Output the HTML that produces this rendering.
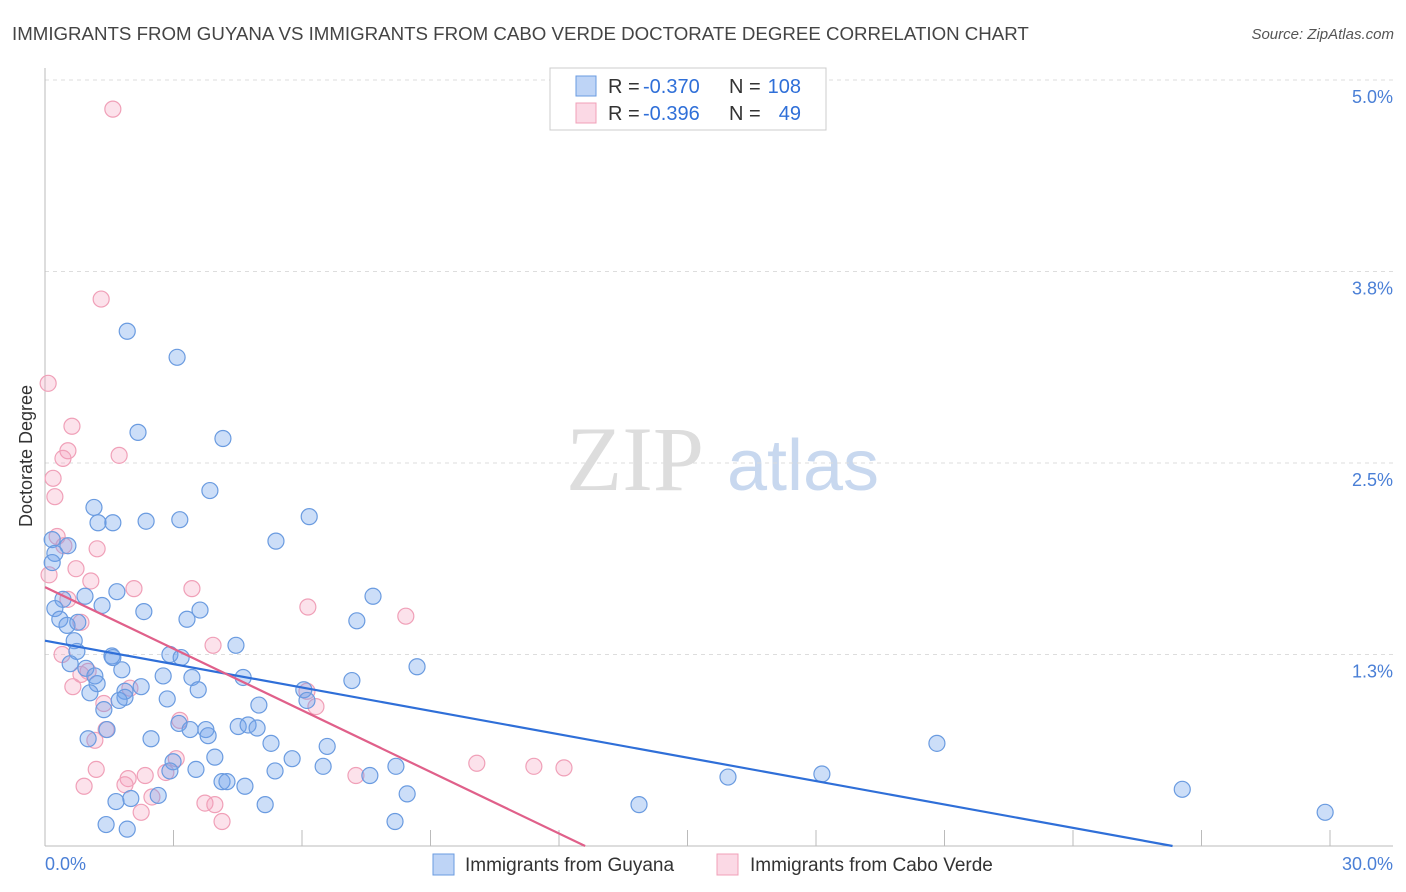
<!DOCTYPE html>
<html><head><meta charset="utf-8"><style>
body{margin:0;background:#fff;font-family:"Liberation Sans",sans-serif;}
svg{display:block}
</style></head><body>
<svg id="chart" width="1406" height="892">
<text x="12" y="40" font-size="18.7" fill="#444">IMMIGRANTS FROM GUYANA VS IMMIGRANTS FROM CABO VERDE DOCTORATE DEGREE CORRELATION CHART</text>
<text x="1394" y="39" font-size="15" fill="#555" font-style="italic" text-anchor="end">Source: ZipAtlas.com</text>
<text x="32" y="456" font-size="18" fill="#333" text-anchor="middle" transform="rotate(-90 32 456)">Doctorate Degree</text>
<g>
<text x="635" y="490" font-size="92" fill="#ddd" font-family="Liberation Serif,serif" text-anchor="middle">ZIP</text>
<text x="803" y="490" font-size="72" fill="#c8d8ef" text-anchor="middle">atlas</text>
</g>
<g id="grid"></g><g id="marks"></g>
<g>
<rect x="550" y="68" width="276" height="62" fill="#fff" stroke="#ccc"/>
<rect x="576" y="76" width="20" height="20" fill="rgba(110,160,235,0.45)" stroke="#6a9be0"/>
<rect x="576" y="103" width="20" height="20" fill="rgba(245,160,190,0.4)" stroke="#f0a0b8"/>
<text x="608" y="93" font-size="20" fill="#333">R =</text>
<text x="643" y="93" font-size="20" fill="#2f6fd8">-0.370</text>
<text x="729" y="93" font-size="20" fill="#333">N =</text>
<text x="801" y="93" font-size="20" fill="#2f6fd8" text-anchor="end">108</text>
<text x="608" y="120" font-size="20" fill="#333">R =</text>
<text x="643" y="120" font-size="20" fill="#2f6fd8">-0.396</text>
<text x="729" y="120" font-size="20" fill="#333">N =</text>
<text x="801" y="120" font-size="20" fill="#2f6fd8" text-anchor="end">49</text>
</g>
<g>
<rect x="433" y="854" width="21" height="21" fill="rgba(110,160,235,0.45)" stroke="#6a9be0"/>
<text x="465" y="871" font-size="19" fill="#333">Immigrants from Guyana</text>
<rect x="717" y="854" width="21" height="21" fill="rgba(245,160,190,0.4)" stroke="#f0a0b8"/>
<text x="750" y="871" font-size="19" fill="#333">Immigrants from Cabo Verde</text>
</g>
</svg>
<script>
const blueX=[1.83,2.94,2.07,3.96,3.67,1.09,1.18,1.51,2.25,3.00,5.88,5.14,0.16,0.51,0.22,0.16,1.60,0.89,0.40,1.27,0.22,2.20,3.45,3.16,0.33,0.49,0.73,7.30,6.94,4.25,0.65,0.71,1.49,2.78,3.03,1.51,0.56,0.91,1.71,8.28,2.63,3.27,4.41,6.83,1.11,1.16,2.14,1.78,3.41,2.72,5.76,1.00,1.78,1.65,4.76,1.31,5.83,2.98,3.23,3.58,4.30,4.52,4.72,1.38,2.36,0.96,3.63,5.03,6.28,3.78,5.50,2.85,3.36,6.19,5.12,2.78,3.94,4.05,4.45,7.23,7.81,1.58,1.91,2.52,4.90,8.06,1.36,1.83,7.79,13.22,15.20,17.29,19.85,25.31,28.49];
const blueY=[3.36,3.19,2.70,2.66,2.32,2.21,2.11,2.11,2.12,2.13,2.15,1.99,2.00,1.96,1.91,1.85,1.66,1.63,1.61,1.57,1.55,1.53,1.54,1.48,1.48,1.44,1.46,1.63,1.47,1.31,1.34,1.27,1.24,1.25,1.23,1.23,1.19,1.16,1.15,1.17,1.11,1.10,1.10,1.08,1.11,1.06,1.04,1.01,1.02,0.96,1.02,1.00,0.97,0.95,0.92,0.89,0.95,0.80,0.76,0.76,0.78,0.79,0.77,0.76,0.70,0.70,0.72,0.67,0.65,0.58,0.57,0.55,0.50,0.52,0.49,0.49,0.42,0.42,0.39,0.46,0.52,0.29,0.31,0.33,0.27,0.34,0.14,0.11,0.16,0.27,0.45,0.47,0.67,0.37,0.22];
const pinkX=[1.51,1.25,0.07,0.60,0.51,0.40,1.65,0.18,0.22,0.27,0.42,1.16,0.09,0.69,1.02,1.98,3.27,0.51,0.80,5.85,8.03,3.74,0.38,0.96,0.80,0.62,1.89,5.83,6.03,1.31,3.00,1.36,1.11,2.92,2.69,1.14,1.85,2.23,0.87,1.78,2.38,3.56,3.78,2.14,3.94,6.92,9.61,10.88,11.55];
const pinkY=[4.81,3.57,3.02,2.74,2.58,2.53,2.55,2.40,2.28,2.02,1.96,1.94,1.77,1.81,1.73,1.68,1.68,1.61,1.46,1.56,1.50,1.31,1.25,1.14,1.12,1.04,1.03,1.01,0.91,0.93,0.82,0.76,0.69,0.57,0.48,0.50,0.44,0.46,0.39,0.40,0.32,0.28,0.27,0.22,0.16,0.46,0.54,0.52,0.51];
const blueTrend=[1.34,-0.0534];
const pinkTrend=[1.69,-0.1406];
const yTicks=[5.0,3.75,2.5,1.25];
const yTickLabels=["5.0%","3.8%","2.5%","1.3%"];
const xTickCount=11;
const NS="http://www.w3.org/2000/svg";
const X0=45,X1=1393,Y0=846,XMAX=30,YMAX=5.0,YTOP=80;
const sx=v=>X0+(X1-X0)*v/XMAX;
const sy=v=>Y0-(Y0-YTOP)*v/YMAX;
function mk(tag,attrs,parent){const e=document.createElementNS(NS,tag);for(const k in attrs)e.setAttribute(k,attrs[k]);parent.appendChild(e);return e;}
const grid=document.getElementById('grid'),marks=document.getElementById('marks');
yTicks.forEach((t,i)=>{
 const l=mk('line',{x1:X0,x2:X1,y1:sy(t),y2:sy(t),stroke:'#ddd','stroke-dasharray':'4,4'},grid);
 
 
 const tx=mk('text',{x:1393,y:sy(t)+23,'font-size':18,fill:'#4a7fd6','text-anchor':'end'},grid);
 tx.textContent=yTickLabels[i];
 
 
});
const ax=mk('line',{x1:X0,x2:X1,y1:Y0,y2:Y0,stroke:'#bbb'},grid);


const ay=mk('line',{x1:X0,x2:X0,y1:68,y2:Y0,stroke:'#bbb'},grid);


for(let i=0;i<xTickCount;i++){
 const x=X0+i*128.5;
 const t=mk('line',{x1:x,x2:x,y1:Y0,y2:Y0-16,stroke:'#bbb'},grid);
 
 
}
const xl=mk('text',{x:45,y:870,'font-size':18,fill:'#4a7fd6'},grid);xl.textContent='0.0%';


const xr=mk('text',{x:1393,y:870,'font-size':18,fill:'#4a7fd6','text-anchor':'end'},grid);xr.textContent='30.0%';


function pts(xs,ys,fill,stroke,name){xs.forEach((v,i)=>{
 const c=mk('circle',{cx:sx(v),cy:sy(ys[i]),r:8,fill:fill,stroke:stroke,'stroke-width':1.2},marks);
 
 
});}
pts(pinkX,pinkY,'rgba(245,160,190,0.3)','#f0a0b8','point-caboverde');
pts(blueX,blueY,'rgba(110,160,235,0.35)','#6a9be0','point-guyana');
function trend(tr,col,name){
 const xEnd=-tr[0]/tr[1];
 const l=mk('line',{x1:sx(0),y1:sy(tr[0]),x2:sx(xEnd),y2:sy(0),stroke:col,'stroke-width':2.2},marks);
 
 
}
trend(blueTrend,'#2f6fd8','trendline-guyana');
trend(pinkTrend,'#e0608a','trendline-caboverde');
</script>
</body></html>
